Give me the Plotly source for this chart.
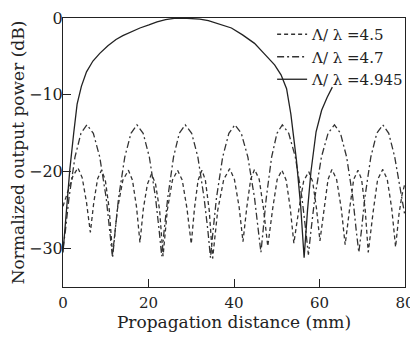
import plotly.graph_objects as go

# ---- data ----
# Λ/λ = 4.5 (dashed)
x45 = [0, 1.2, 2.3, 3.5, 4.5, 5.5, 6.4, 7.2, 8.1, 9.0, 9.9, 10.8, 11.6, 12.7, 14.0, 15.3,
       16.25, 17.2, 18.0, 18.8, 19.75, 20.7, 21.65, 22.6, 23.4, 24.4, 25.6, 26.8,
       27.9, 29.0, 30.0, 30.75, 31.6, 32.5, 33.3, 34.2, 35.0, 36.2, 37.6, 39.0,
       40.1, 41.2, 42.1, 43.0, 43.9, 44.8, 45.9, 46.9, 47.9, 49.05, 50.1, 51.2,
       52.2, 53.15, 54.0, 55.2, 56.3, 57.5, 58.4, 59.3, 60.1, 61.1, 62.0, 62.9,
       64.0, 65.1, 66.0, 67.05, 68.0, 69.0, 69.85, 70.7, 71.4, 72.6, 73.6, 74.8,
       75.85, 76.9, 77.8, 78.6, 79.3, 80.0]
y45 = [-24.5, -22.5, -20.6, -19.5, -20.8, -24.0, -27.9, -24.0, -20.9, -19.8, -21.1, -24.8, -30.8, -25.0, -21.1, -19.8,
       -21.1, -24.6, -29.2, -24.8, -21.6, -20.3, -21.6, -25.0, -31.0, -25.0, -21.1, -19.8,
       -21.1, -24.8, -29.4, -24.8, -21.1, -19.8, -21.1, -25.0, -31.3, -25.0, -21.0, -19.6,
       -21.0, -24.6, -29.1, -24.6, -21.0, -19.7, -21.0, -24.8, -29.7, -24.8, -21.0, -19.8,
       -21.1, -24.7, -29.3, -24.8, -21.2, -20.0, -21.3, -24.8, -29.0, -24.8, -21.0, -19.7,
       -21.0, -24.8, -29.5, -24.8, -21.0, -19.8, -21.0, -25.0, -30.5, -25.0, -21.0, -19.7,
       -21.0, -24.8, -29.8, -25.5, -23.0, -21.5]

# Λ/λ = 4.7 (dash-dot)
x47 = [0, 0.56, 1.4, 2.8, 4.2, 5.6, 7.1, 8.6, 10.1, 11.0, 11.6, 12.2, 13.0, 14.45, 15.9, 17.3,
       18.75, 20.2, 21.65, 22.5, 23.1, 23.65, 24.5, 25.85, 27.2, 28.6,
       30.1, 31.55, 33.0, 33.9, 34.5, 35.1, 35.9, 37.35, 38.8, 40.2,
       41.7, 43.25, 44.8, 45.7, 46.3, 46.8, 47.55, 48.8, 50.05, 51.3,
       52.8, 54.35, 55.9, 56.8, 57.4, 58.0, 58.9, 60.45, 62.0, 63.5,
       64.9, 66.35, 67.8, 68.6, 69.2, 69.8, 70.6, 72.0, 73.4, 74.8,
       76.2, 77.6, 79.0, 80.0]
y47 = [-30.0, -27.7, -23.4, -18.1, -15.0, -13.9, -15.0, -18.1, -23.4, -27.7, -31.2, -27.7, -23.4, -18.1, -15.0, -13.9,
       -15.0, -18.1, -23.4, -27.7, -31.0, -27.7, -23.4, -18.1, -15.0, -13.9,
       -15.0, -18.1, -23.4, -27.7, -31.2, -27.7, -23.4, -18.1, -15.0, -13.9,
       -15.0, -18.1, -23.4, -27.7, -30.5, -27.7, -23.4, -18.1, -15.0, -13.9,
       -15.0, -18.1, -23.4, -27.7, -30.8, -27.7, -23.4, -18.1, -15.0, -13.9,
       -15.0, -18.1, -23.4, -27.7, -30.5, -27.7, -23.4, -18.1, -15.0, -13.9,
       -15.0, -18.1, -22.5, -25.8]

# Λ/λ = 4.945 (solid)
x4945 = [0, 0.4, 0.85, 1.6, 2.5, 3.3, 4.3, 5.5, 7.0, 8.6, 10.5, 12.4, 14.0, 15.9, 18.0, 20.1,
         22.0, 24.0, 26.0, 28.0, 30.0, 32.0, 34.0, 36.5, 39.4, 42.0, 44.8, 47.0, 49.5,
         51.0, 52.3, 53.3, 54.6, 55.6, 56.4, 57.2, 58.0, 59.2, 60.5, 61.8, 63.0]
y4945 = [-30.5, -27.5, -24.5, -19.7, -15.0, -11.2, -8.9, -7.0, -5.6, -4.6, -3.6, -2.8, -2.3, -1.8, -1.3, -0.9,
         -0.5, -0.2, -0.05, 0.0, -0.05, -0.15, -0.35, -0.75, -1.3, -2.2, -3.3, -4.6, -6.1,
         -7.4, -9.2, -12.5, -18.5, -24.5, -31.2, -25.0, -20.0, -14.8, -12.0, -10.3, -9.0]

names = ["Λ/ λ =4.5", "Λ/ λ =4.7", "Λ/ λ =4.945"]
x_ticks = [0, 20, 40, 60, 80]
y_ticks = [-30, -20, -10, 0]

FONT = "DejaVu Serif"
INK = "#222222"

fig = go.Figure()
fig.add_trace(go.Scatter(x=x45, y=y45, mode="lines", name=names[0],
                         line=dict(color="#333333", width=1.3, dash="4px,3px")))
fig.add_trace(go.Scatter(x=x47, y=y47, mode="lines", name=names[1],
                         line=dict(color="#333333", width=1.3, dash="7px,3px,2px,3px")))
fig.add_trace(go.Scatter(x=x4945, y=y4945, mode="lines", name=names[2],
                         line=dict(color=INK, width=1.3)))

# the page adds an 8px body margin, so the figure is sized to fill the rest of the window
fig.update_layout(
    width=410, height=329,
    margin=dict(l=55, r=9, t=10, b=50),
    paper_bgcolor="white", plot_bgcolor="white",
    font=dict(family=FONT, size=17, color=INK),
    showlegend=True,
    legend=dict(x=1.012, xanchor="right", y=1.0, yanchor="top",
                bgcolor="rgba(255,255,255,0)", borderwidth=0,
                font=dict(family=FONT, size=15, color=INK),
                itemwidth=30, tracegroupgap=0),
    xaxis=dict(range=[0, 80], tickvals=x_ticks, ticks="inside", ticklen=8,
               tickcolor=INK, showline=True, linecolor=INK, linewidth=1,
               mirror=True, showgrid=False, zeroline=False, automargin=False,
               ticklabeloverflow="allow", ticklabelstandoff=2,
               tickfont=dict(family=FONT, size=15),
               title=dict(text="Propagation distance (mm)", standoff=0,
                          font=dict(family=FONT, size=17))),
    yaxis=dict(range=[-35, 0], tickvals=y_ticks, ticks="inside", ticklen=8,
               tickcolor=INK, showline=True, linecolor=INK, linewidth=1,
               mirror=True, showgrid=False, zeroline=False, automargin=False,
               ticklabeloverflow="allow", ticklabelstandoff=-4,
               tickfont=dict(family=FONT, size=16),
               title=dict(text="Normalized output power (dB)", standoff=4,
                          font=dict(family=FONT, size=17))),
)

fig.write_html("out.html")
